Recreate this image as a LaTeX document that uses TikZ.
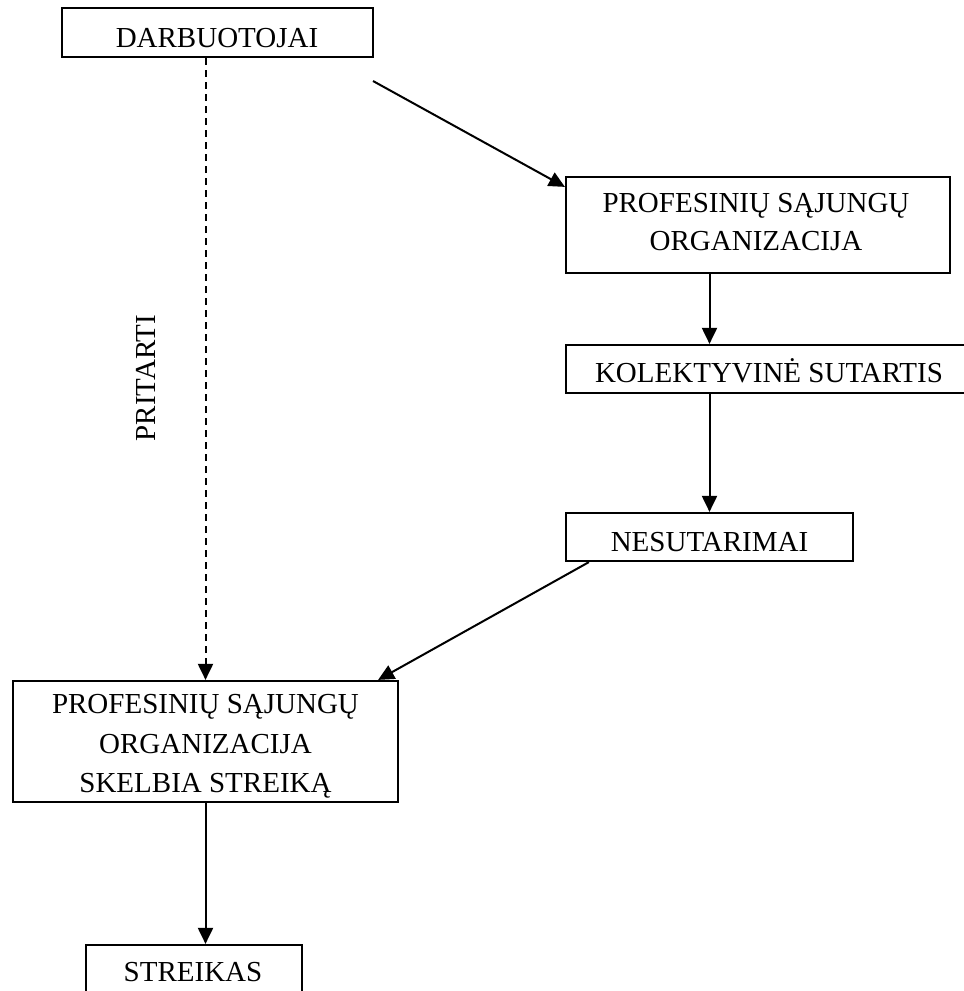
\documentclass[tikz,border=0pt]{standalone}
\usepackage{fontspec}
\setmainfont{Liberation Serif}
\usetikzlibrary{arrows.meta}
\begin{document}
\begin{tikzpicture}[x=1pt,y=-1pt,
  box/.style={draw,line width=2.2pt,inner sep=0pt},
  txt/.style={inner sep=0pt,text height=19pt,text depth=0pt,
    font=\fontsize{29}{36}\selectfont},
  arr/.style={line width=2pt,-{Triangle[length=16pt,width=15pt]}},
  dasharr/.style={arr,dash pattern=on 7pt off 5pt}]
\useasboundingbox (0,0) rectangle (964,991);
\begin{scope}
\clip (0,0) rectangle (964,991);
\node[box,minimum width=311pt,minimum height=49pt] (b1) at (217.5,32.5) {};
\node[box,minimum width=384pt,minimum height=96pt] (b2) at (758,225) {};
\node[box,minimum width=406pt,minimum height=48pt] (b3) at (769,369) {};
\node[box,minimum width=287pt,minimum height=48pt] (b4) at (709.5,537) {};
\node[box,minimum width=385pt,minimum height=121pt] (b5) at (205.5,741.5) {};
\node[box,minimum width=216pt,minimum height=47pt] (b6) at (194,968.5) {};
\end{scope}
\node[txt] (t1) at (217,37.5) {DARBUOTOJAI};
\node[txt] (t2a) at (756,203) {PROFESINIŲ SĄJUNGŲ};
\node[txt] (t2b) at (756,240.5) {ORGANIZACIJA};
\node[txt] (t3) at (769,373) {KOLEKTYVINĖ SUTARTIS};
\node[txt] (t4) at (709.5,542) {NESUTARIMAI};
\node[txt] (t5a) at (205.5,704) {PROFESINIŲ SĄJUNGŲ};
\node[txt] (t5b) at (205.5,743.5) {ORGANIZACIJA};
\node[txt] (t5c) at (205.5,782.5) {SKELBIA STREIKĄ};
\node[txt] (t6) at (193,972) {STREIKAS};
\node[txt,rotate=90] (pr) at (146,378) {PRITARTI};
\coordinate (c1) at (373,81);
\draw[arr] (c1) -- ([yshift=-11pt]b2.north west);
\draw[arr] (b2.south -| b4.north) -- (b3.north -| b4.north);
\draw[arr] (b3.south -| b4.north) -- (b4.north);
\draw[arr] ([xshift=24pt]b4.south west) -- ([xshift=-21pt]b5.north east);
\draw[dasharr] (b1.south -| b5.north) -- (b5.north);
\draw[arr] (b5.south) -- (b6.north -| b5.south);
\end{tikzpicture}
\end{document}
